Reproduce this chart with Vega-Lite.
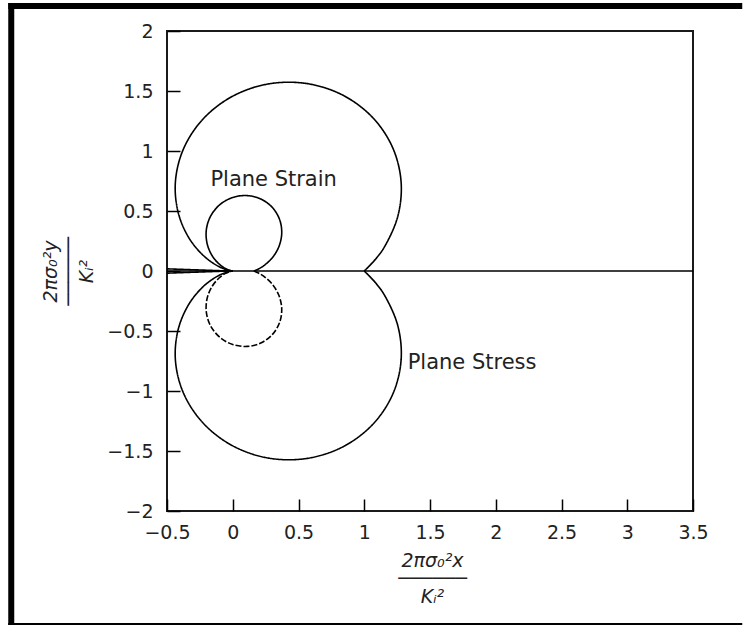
{
  "$schema": "https://vega.github.io/schema/vega-lite/v6.json",
  "width": 526,
  "height": 480,
  "autosize": {"type": "none"},
  "padding": {"left": 167, "top": 31, "right": 50, "bottom": 115},
  "background": "white",
  "config": {"view": {"stroke": "#1a1a1a", "strokeWidth": 2}, "font": "DejaVu Sans"},
  "datasets": {
    "curves": [
      {"series": "stress_upper", "t": 0, "x": 1.0, "y": 0.0},
      {"series": "stress_upper", "t": 5, "x": 1.0829, "y": 0.0947},
      {"series": "stress_upper", "t": 10, "x": 1.1551, "y": 0.2037},
      {"series": "stress_upper", "t": 20, "x": 1.2554, "y": 0.4569},
      {"series": "stress_upper", "t": 30, "x": 1.2804, "y": 0.7392},
      {"series": "stress_upper", "t": 40, "x": 1.2183, "y": 1.0223},
      {"series": "stress_upper", "t": 50, "x": 1.0686, "y": 1.2734},
      {"series": "stress_upper", "t": 60, "x": 0.8438, "y": 1.4614},
      {"series": "stress_upper", "t": 70, "x": 0.5683, "y": 1.5613},
      {"series": "stress_upper", "t": 80, "x": 0.275, "y": 1.5596},
      {"series": "stress_upper", "t": 90, "x": 0.0, "y": 1.4571},
      {"series": "stress_upper", "t": 100, "x": -0.2238, "y": 1.2691},
      {"series": "stress_upper", "t": 110, "x": -0.3724, "y": 1.0231},
      {"series": "stress_upper", "t": 120, "x": -0.4353, "y": 0.7539},
      {"series": "stress_upper", "t": 130, "x": -0.4172, "y": 0.4972},
      {"series": "stress_upper", "t": 140, "x": -0.3372, "y": 0.2829},
      {"series": "stress_upper", "t": 150, "x": -0.2242, "y": 0.1295},
      {"series": "stress_upper", "t": 160, "x": -0.1116, "y": 0.0406},
      {"series": "stress_upper", "t": 170, "x": -0.0298, "y": 0.0053},
      {"series": "stress_upper", "t": 180, "x": 0.0, "y": 0.0},
      {"series": "stress_lower", "t": 0, "x": 1.0, "y": 0.0},
      {"series": "stress_lower", "t": 5, "x": 1.0829, "y": -0.0947},
      {"series": "stress_lower", "t": 10, "x": 1.1551, "y": -0.2037},
      {"series": "stress_lower", "t": 20, "x": 1.2554, "y": -0.4569},
      {"series": "stress_lower", "t": 30, "x": 1.2804, "y": -0.7392},
      {"series": "stress_lower", "t": 40, "x": 1.2183, "y": -1.0223},
      {"series": "stress_lower", "t": 50, "x": 1.0686, "y": -1.2734},
      {"series": "stress_lower", "t": 60, "x": 0.8438, "y": -1.4614},
      {"series": "stress_lower", "t": 70, "x": 0.5683, "y": -1.5613},
      {"series": "stress_lower", "t": 80, "x": 0.275, "y": -1.5596},
      {"series": "stress_lower", "t": 90, "x": 0.0, "y": -1.4571},
      {"series": "stress_lower", "t": 100, "x": -0.2238, "y": -1.2691},
      {"series": "stress_lower", "t": 110, "x": -0.3724, "y": -1.0231},
      {"series": "stress_lower", "t": 120, "x": -0.4353, "y": -0.7539},
      {"series": "stress_lower", "t": 130, "x": -0.4172, "y": -0.4972},
      {"series": "stress_lower", "t": 140, "x": -0.3372, "y": -0.2829},
      {"series": "stress_lower", "t": 150, "x": -0.2242, "y": -0.1295},
      {"series": "stress_lower", "t": 160, "x": -0.1116, "y": -0.0406},
      {"series": "stress_lower", "t": 170, "x": -0.0298, "y": -0.0053},
      {"series": "stress_lower", "t": 180, "x": 0.0, "y": 0.0},
      {"series": "strain_upper", "t": 0, "x": 0.16, "y": 0.0},
      {"series": "strain_upper", "t": 5, "x": 0.1957, "y": 0.0171},
      {"series": "strain_upper", "t": 10, "x": 0.232, "y": 0.0409},
      {"series": "strain_upper", "t": 20, "x": 0.2999, "y": 0.1092},
      {"series": "strain_upper", "t": 30, "x": 0.3507, "y": 0.2025},
      {"series": "strain_upper", "t": 40, "x": 0.3724, "y": 0.3125},
      {"series": "strain_upper", "t": 50, "x": 0.3573, "y": 0.4258},
      {"series": "strain_upper", "t": 60, "x": 0.3038, "y": 0.5261},
      {"series": "strain_upper", "t": 70, "x": 0.2175, "y": 0.5977},
      {"series": "strain_upper", "t": 80, "x": 0.1108, "y": 0.6284},
      {"series": "strain_upper", "t": 90, "x": 0.0, "y": 0.6128},
      {"series": "strain_upper", "t": 100, "x": -0.0976, "y": 0.5532},
      {"series": "strain_upper", "t": 110, "x": -0.1672, "y": 0.4595},
      {"series": "strain_upper", "t": 120, "x": -0.2004, "y": 0.347},
      {"series": "strain_upper", "t": 130, "x": -0.1959, "y": 0.2335},
      {"series": "strain_upper", "t": 140, "x": -0.1608, "y": 0.135},
      {"series": "strain_upper", "t": 150, "x": -0.1082, "y": 0.0625},
      {"series": "strain_upper", "t": 160, "x": -0.0543, "y": 0.0198},
      {"series": "strain_upper", "t": 170, "x": -0.0146, "y": 0.0026},
      {"series": "strain_upper", "t": 180, "x": 0.0, "y": 0.0},
      {"series": "strain_lower", "t": 0, "x": 0.16, "y": 0.0},
      {"series": "strain_lower", "t": 5, "x": 0.1957, "y": -0.0171},
      {"series": "strain_lower", "t": 10, "x": 0.232, "y": -0.0409},
      {"series": "strain_lower", "t": 20, "x": 0.2999, "y": -0.1092},
      {"series": "strain_lower", "t": 30, "x": 0.3507, "y": -0.2025},
      {"series": "strain_lower", "t": 40, "x": 0.3724, "y": -0.3125},
      {"series": "strain_lower", "t": 50, "x": 0.3573, "y": -0.4258},
      {"series": "strain_lower", "t": 60, "x": 0.3038, "y": -0.5261},
      {"series": "strain_lower", "t": 70, "x": 0.2175, "y": -0.5977},
      {"series": "strain_lower", "t": 80, "x": 0.1108, "y": -0.6284},
      {"series": "strain_lower", "t": 90, "x": 0.0, "y": -0.6128},
      {"series": "strain_lower", "t": 100, "x": -0.0976, "y": -0.5532},
      {"series": "strain_lower", "t": 110, "x": -0.1672, "y": -0.4595},
      {"series": "strain_lower", "t": 120, "x": -0.2004, "y": -0.347},
      {"series": "strain_lower", "t": 130, "x": -0.1959, "y": -0.2335},
      {"series": "strain_lower", "t": 140, "x": -0.1608, "y": -0.135},
      {"series": "strain_lower", "t": 150, "x": -0.1082, "y": -0.0625},
      {"series": "strain_lower", "t": 160, "x": -0.0543, "y": -0.0198},
      {"series": "strain_lower", "t": 170, "x": -0.0146, "y": -0.0026},
      {"series": "strain_lower", "t": 180, "x": 0.0, "y": 0.0},
      {"series": "crack_top", "t": 0, "x": -0.5, "y": 0.018},
      {"series": "crack_top", "t": 1, "x": -0.03, "y": 0.0},
      {"series": "crack_bottom", "t": 0, "x": -0.5, "y": -0.018},
      {"series": "crack_bottom", "t": 1, "x": -0.03, "y": 0.0},
      {"series": "crack_line", "t": 0, "x": -0.5, "y": 0.0},
      {"series": "crack_line", "t": 1, "x": 3.5, "y": 0.0}
    ],
    "labels": [
      {"label": "Plane Strain", "x": -0.17, "y": 0.76},
      {"label": "Plane Stress", "x": 1.33, "y": -0.77}
    ]
  },
  "layer": [
    {
      "data": {"name": "curves"},
      "mark": {"type": "line", "interpolate": "catmull-rom", "strokeWidth": 1.6, "color": "black"},
      "encoding": {
        "x": {
          "field": "x", "type": "quantitative",
          "scale": {"domain": [-0.5, 3.5], "nice": false, "zero": false},
          "axis": {
            "values": [-0.5, 0, 0.5, 1, 1.5, 2, 2.5, 3, 3.5],
            "format": "~g", "domain": false, "grid": false,
            "tickSize": -12, "tickColor": "black", "tickWidth": 1.5,
            "labelPadding": 24, "labelFontSize": 19, "labelFont": "DejaVu Sans", "labelColor": "#222",
            "labelFlush": false, "labelOverlap": false,
            "title": ["2πσ₀²x", "──────", "Kᵢ²"],
            "titleFont": "DejaVu Sans", "titleFontStyle": "italic", "titleFontWeight": "normal",
            "titleFontSize": 19, "titleLineHeight": 18, "titleColor": "#222",
            "titleX": 265, "titleY": 49, "titleAlign": "center", "titleBaseline": "middle"
          }
        },
        "y": {
          "field": "y", "type": "quantitative",
          "scale": {"domain": [-2, 2], "nice": false, "zero": false},
          "axis": {
            "values": [-2, -1.5, -1, -0.5, 0, 0.5, 1, 1.5, 2],
            "format": "~g", "domain": false, "grid": false,
            "tickSize": -13, "tickColor": "black", "tickWidth": 1.5,
            "labelPadding": 27, "labelFontSize": 19, "labelFont": "DejaVu Sans", "labelColor": "#222",
            "labelFlush": false, "labelOverlap": false,
            "title": ["2πσ₀²y", "──────", "Kᵢ²"],
            "titleFont": "DejaVu Sans", "titleFontStyle": "italic", "titleFontWeight": "normal",
            "titleFontSize": 19, "titleLineHeight": 18, "titleColor": "#222",
            "titleX": -117, "titleY": 240, "titleAngle": -90, "titleAlign": "center", "titleBaseline": "middle"
          }
        },
        "detail": {"field": "series", "type": "nominal"},
        "order": {"field": "t", "type": "quantitative"},
        "strokeDash": {
          "field": "series", "type": "nominal",
          "scale": {
            "domain": ["stress_upper", "stress_lower", "strain_upper", "strain_lower", "crack_top", "crack_bottom", "crack_line"],
            "range": [[1, 0], [1, 0], [1, 0], [6, 2], [1, 0], [1, 0], [1, 0]]
          },
          "legend": null
        }
      }
    },
    {
      "data": {"name": "labels"},
      "mark": {"type": "text", "font": "DejaVu Sans", "fontSize": 21, "align": "left", "baseline": "middle", "color": "#222"},
      "encoding": {
        "x": {"field": "x", "type": "quantitative"},
        "y": {"field": "y", "type": "quantitative"},
        "text": {"field": "label", "type": "nominal"}
      }
    },
    {
      "data": {"values": [{}]},
      "mark": {"type": "rule", "strokeWidth": 6, "color": "black", "clip": false},
      "encoding": {"x": {"datum": -1.7072}, "x2": {"datum": 3.8745}, "y": {"datum": 2.2083}}
    },
    {
      "data": {"values": [{}]},
      "mark": {"type": "rule", "strokeWidth": 6, "color": "black", "clip": false},
      "encoding": {"x": {"datum": -1.6844}, "y": {"datum": 2.2333}, "y2": {"datum": -2.95}}
    },
    {
      "data": {"values": [{}]},
      "mark": {"type": "rule", "strokeWidth": 2, "color": "black", "clip": false},
      "encoding": {"x": {"datum": -1.7072}, "x2": {"datum": 3.8745}, "y": {"datum": -2.9417}}
    }
  ]
}
